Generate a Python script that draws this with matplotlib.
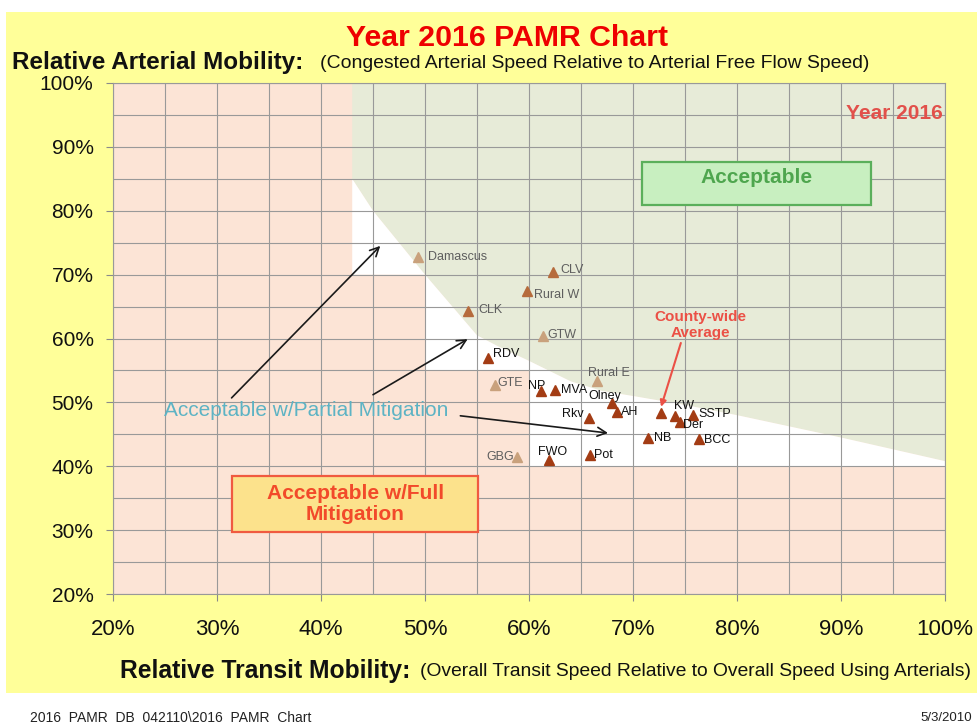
import matplotlib
matplotlib.use("Agg")
import matplotlib.pyplot as plt
from matplotlib.patches import Rectangle, Polygon
from matplotlib.ticker import MultipleLocator, FuncFormatter

# ---------------- data ----------------
names = ["Damascus", "CLV", "Rural W", "CLK", "GTW", "RDV", "Rural E", "GTE",
         "NP", "MVA", "Olney", "AH", "KW", "SSTP", "Der", "Rkv", "NB", "BCC",
         "GBG", "FWO", "Pot"]
transit = [49.3, 62.3, 59.8, 54.1, 61.3, 56.1, 66.5, 56.7,
           61.2, 62.5, 68.0, 68.5, 74.0, 75.8, 74.5, 65.8, 71.4, 76.3,
           58.8, 61.9, 65.9]
arterial = [72.7, 70.4, 67.5, 64.3, 60.4, 56.9, 53.4, 52.7,
            51.8, 52.0, 49.9, 48.5, 47.9, 48.0, 47.0, 47.6, 44.5, 44.2,
            41.5, 41.0, 41.7]
group = ["light", "mid", "mid", "mid", "light", "dark", "light", "light",
         "dark", "dark", "dark", "dark", "dark", "dark", "dark", "dark", "dark", "dark",
         "light", "dark", "dark"]
county_avg = (72.7, 48.4)

# acceptable-region boundary (arterial standard vs transit)
boundary_x = [43, 45, 50, 55, 57, 60, 64, 67, 70, 75, 80, 90, 100]
boundary_y = [85, 80, 70, 60.5, 58.8, 56.5, 53.3, 51.8, 51.0, 49.6, 48.0, 44.5, 40.8]
# partial-mitigation staircase floor (x, y) going back from right to left
stair_x = [100, 60, 60, 50, 50, 43]
stair_y = [40, 40, 55, 55, 70, 70]

tick_vals = [20, 30, 40, 50, 60, 70, 80, 90, 100]

# ---------------- style ----------------
W, H = 977, 724
fig = plt.figure(figsize=(W / 100, H / 100), dpi=100)
fig.patch.set_facecolor("white")
plt.rcParams["font.family"] = ["Liberation Sans", "DejaVu Sans"]

def fx(x):
    return x / W

def fy(y):
    return 1 - y / H

# yellow chart area
fig.patches.append(Rectangle((fx(6), fy(693)), fx(977) - fx(6), fy(12) - fy(693),
                             transform=fig.transFigure, facecolor="#FFFF99",
                             edgecolor="none", zorder=-10))

L, R, T, B = 113, 945, 83, 594
ax = fig.add_axes([fx(L), fy(B), fx(R) - fx(L), fy(T) - fy(B)])
ax.set_xlim(20, 100)
ax.set_ylim(20, 100)
ax.set_facecolor("#FCE4D6")

# regions
green_pts = [(43, 100)] + list(zip(boundary_x, boundary_y)) + [(100, 100)]
ax.add_patch(Polygon(green_pts, closed=True, facecolor="#E7EBD8", edgecolor="none", zorder=0.2))
white_pts = list(zip(boundary_x, boundary_y)) + list(zip(stair_x, stair_y))
ax.add_patch(Polygon(white_pts, closed=True, facecolor="white", edgecolor="none", zorder=0.2))

# grid
ax.set_xticks(tick_vals)
ax.set_yticks(tick_vals)
ax.xaxis.set_minor_locator(MultipleLocator(5))
ax.yaxis.set_minor_locator(MultipleLocator(5))
ax.set_axisbelow(True)
ax.grid(which="both", color="#999999", linewidth=0.8)
ax.tick_params(which="minor", length=0)
ax.tick_params(axis="y", which="major", length=5, color="#8A8A8A", width=0.8,
               pad=9, labelsize=15, labelcolor="#111111")
ax.tick_params(axis="x", which="major", length=5, color="#8A8A8A", width=0.8,
               pad=13, labelsize=16, labelcolor="#111111")
fmt = FuncFormatter(lambda v, p: "%d%%" % round(v))
ax.xaxis.set_major_formatter(fmt)
ax.yaxis.set_major_formatter(fmt)
for s in ax.spines.values():
    s.set_color("#999999")
    s.set_linewidth(0.8)

# points
marker_col = {"light": "#C9A17C", "mid": "#B66B3C", "dark": "#A33C14"}
label_col = {"light": "#5E5E5E", "mid": "#5E5E5E", "dark": "#111111"}
# label placement: (dx px, dy px, ha)
label_pos = {
    "Damascus": (10, 0, "left"), "CLV": (7, 2, "left"), "Rural W": (7, -4, "left"),
    "CLK": (11, 1, "left"), "GTW": (5, 1, "left"), "RDV": (5, 4, "left"),
    "Rural E": (12, 8, "center"), "GTE": (3, 2, "left"), "NP": (-5, 5, "center"),
    "MVA": (6, 0, "left"), "Olney": (-7, 7, "center"), "AH": (4, 0, "left"),
    "KW": (9, 10, "center"), "SSTP": (5, 1, "left"), "Der": (3, -3, "left"),
    "Rkv": (-6, 4, "right"), "NB": (6, 0, "left"), "BCC": (5, -1, "left"),
    "GBG": (-3, 0, "right"), "FWO": (4, 8, "center"), "Pot": (4, 0, "left"),
}
for n, x, y, g in zip(names, transit, arterial, group):
    ax.plot(x, y, marker="^", markersize=6.5, color=marker_col[g], linestyle="none", zorder=4)
    dx, dy, ha = label_pos[n]
    ax.annotate(n, (x, y), xytext=(dx * 0.72, dy * 0.72), textcoords="offset points",
                ha=ha, va="center", fontsize=9, color=label_col[g], zorder=5)
ax.plot(*county_avg, marker="^", markersize=6.5, color=marker_col["dark"], linestyle="none", zorder=4)

# annotations
ax.text(76.5, 62.1, "County-wide\nAverage", ha="center", va="center", fontsize=11,
        fontweight="bold", color="#EB5046", linespacing=1.15, zorder=6)
ax.annotate("", xy=(county_avg[0], county_avg[1] + 0.9), xytext=(74.6, 59.3),
            arrowprops=dict(arrowstyle="-|>", color="#EB5046", lw=1.5, mutation_scale=9,
                            shrinkA=0, shrinkB=0), zorder=6)
ax.text(99.8, 95.3, "Year 2016", ha="right", va="center", fontsize=15, fontweight="bold",
        color="#E2504A", zorder=6)

ax.add_patch(Rectangle((70.9, 80.9), 22.0, 6.7, facecolor="#C8EFC0", edgecolor="#5BAF5B",
                       linewidth=1.6, zorder=5))
ax.text(81.9, 85.2, "Acceptable", ha="center", va="center", fontsize=15, fontweight="bold",
        color="#4EA64E", zorder=6)

ax.add_patch(Rectangle((31.4, 29.7), 23.7, 8.7, facecolor="#FCE28C", edgecolor="#F05A40",
                       linewidth=1.6, zorder=5))
ax.text(43.3, 34.1, "Acceptable w/Full\nMitigation", ha="center", va="center", fontsize=15,
        fontweight="bold", color="#F24A2A", linespacing=1.1, zorder=6)

ax.text(38.56, 48.65, "Acceptable w/Partial Mitigation", ha="center", va="center",
        fontsize=15, color="#5DB3C4", zorder=6)
arrow_kw = dict(arrowstyle="->", color="#1A1A1A", lw=1.2, mutation_scale=16, shrinkA=0, shrinkB=0)
ax.annotate("", xy=(45.7, 74.5), xytext=(31.4, 50.7), arrowprops=arrow_kw, zorder=6)
ax.annotate("", xy=(54.1, 59.9), xytext=(45.0, 51.2), arrowprops=arrow_kw, zorder=6)
ax.annotate("", xy=(67.6, 45.2), xytext=(53.4, 47.9), arrowprops=arrow_kw, zorder=6)

# figure texts
renderer = fig.canvas.get_renderer()

def fit(t, target):
    w = t.get_window_extent(renderer).width
    t.set_fontsize(t.get_fontsize() * target / w)

t = fig.text(fx(507), fy(38), "Year 2016 PAMR Chart", ha="center", va="center",
             fontsize=20, fontweight="bold", color="#EE0000")
fit(t, 322)
t = fig.text(fx(12), fy(63), "Relative Arterial Mobility:", ha="left", va="center",
             fontsize=16, fontweight="bold", color="#111111")
fit(t, 290)
t = fig.text(fx(320), fy(64), "(Congested Arterial Speed Relative to Arterial Free Flow Speed)",
             ha="left", va="center", fontsize=13, color="#111111")
fit(t, 548)
t = fig.text(fx(120), fy(671), "Relative Transit Mobility:", ha="left", va="center",
             fontsize=16, fontweight="bold", color="#111111")
fit(t, 290)
t = fig.text(fx(420), fy(672), "(Overall Transit Speed Relative to Overall Speed Using Arterials)",
             ha="left", va="center", fontsize=13, color="#111111")
fit(t, 552)
t = fig.text(fx(30), fy(718), "2016  PAMR  DB  042110\\2016  PAMR  Chart", ha="left",
             va="center", fontsize=8, color="#222222")
fit(t, 282)
foot_size = t.get_fontsize()
fig.text(fx(972), fy(718), "5/3/2010", ha="right", va="center", fontsize=foot_size * 0.95,
         color="#222222")

fig.savefig("out.png", dpi=100, facecolor=fig.get_facecolor())
